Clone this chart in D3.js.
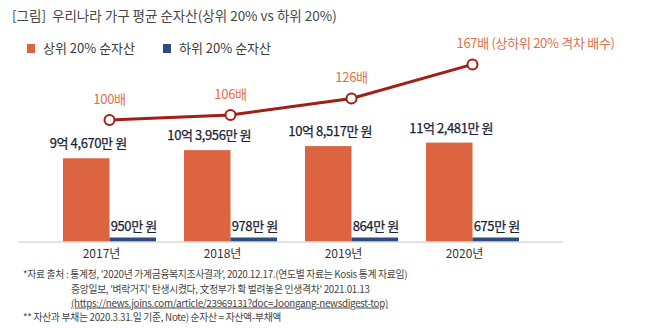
<!DOCTYPE html>
<html>
<head>
<meta charset="utf-8">
<script src="https://cdn.jsdelivr.net/npm/d3@7"></script>
<style>
  html, body { margin: 0; padding: 0; background: #fff; }
  svg { display: block; font-family: "Noto Sans CJK KR", "Noto Sans", sans-serif; }
</style>
</head>
<body>
<svg width="650" height="328"></svg>
<script>
// 가구 평균 순자산 (단위: 만 원)
var years = ["2017년", "2018년", "2019년", "2020년"];
var topAssets = [94670, 103956, 108517, 112481];
var bottomAssets = [950, 978, 864, 675];
// 상위 20% / 하위 20% 격차 배수
var multiples = [100, 106, 126, 167];
var seriesNames = ["상위 20% 순자산", "하위 20% 순자산"];
var multipleNote = "상하위 20% 격차 배수";

var notes = [
  { x: 23, y: 278, text: "*자료 출처 : 통계청, '2020년 가계금융복지조사결과', 2020.12.17.(연도별 자료는 Kosis 통계 자료임)" },
  { x: 71, y: 292.5, text: "중앙일보, '벼락거지' 탄생시켰다, 文정부가 확 벌려놓은 인생격차' 2021.01.13" },
  { x: 71, y: 306.5, text: "(https://news.joins.com/article/23969131?doc=Joongang-newsdigest-top)", underline: true },
  { x: 23, y: 321, text: "** 자산과 부채는 2020.3.31.일 기준, Note) 순자산 = 자산액-부채액" }
];

var orange = "#dc6441", navy = "#2f4b80", lineColor = "#9e2016", lineLabel = "#e0704c", ink = "#1a2236";

var svg = d3.select("svg");

// 제목
svg.append("text")
  .attr("x", 12).attr("y", 21)
  .style("font-size", "13.5px").style("fill", "#474747")
  .style("white-space", "pre")
  .text("[그림]  우리나라 가구 평균 순자산(상위 20% vs 하위 20%)");

// 범례
var legend = svg.selectAll("g.legend")
  .data(seriesNames)
  .enter().append("g")
  .attr("class", "legend")
  .attr("transform", function(d, i) { return "translate(" + (27 + i * 136) + ",44)"; });
legend.append("rect")
  .attr("width", 8).attr("height", 9)
  .style("fill", function(d, i) { return i ? navy : orange; });
legend.append("text")
  .attr("x", 16).attr("y", 8.5)
  .style("font-size", "13px").style("fill", "#3a3a3a")
  .text(function(d) { return d; });

// 스케일
var x = d3.scaleBand()
  .domain(years)
  .range([49, 533])
  .paddingInner(0.2314)
  .paddingOuter(0.1157);
var xSeries = d3.scaleBand().domain([0, 1]).range([0, x.bandwidth()]);
var y = d3.scaleLinear().domain([0, 120000]).range([241.5, 136]);
var yMul = d3.scaleLinear().domain([0, 200]).range([203, 37]);

var won = d3.format(",");
function bigLabel(v) { return Math.floor(v / 10000) + "억 " + won(v % 10000) + "만 원"; }

// 상위 20% 막대
svg.selectAll("rect.top")
  .data(topAssets)
  .enter().append("rect")
  .attr("class", "top")
  .attr("x", function(d, i) { return x(years[i]) + xSeries(0); })
  .attr("width", xSeries.bandwidth())
  .attr("y", function(d) { return y(d); })
  .attr("height", function(d) { return y(0) - y(d); })
  .style("fill", orange);

// 하위 20% 막대 (너무 얇아 최소 두께 적용)
svg.selectAll("rect.bottom")
  .data(bottomAssets)
  .enter().append("rect")
  .attr("class", "bottom")
  .attr("x", function(d, i) { return x(years[i]) + xSeries(1); })
  .attr("width", xSeries.bandwidth())
  .attr("y", function(d) { return y(0) - Math.max(y(0) - y(d), 4); })
  .attr("height", function(d) { return Math.max(y(0) - y(d), 4); })
  .style("fill", navy);

// 기준선
svg.append("line")
  .attr("x1", 18).attr("x2", 563)
  .attr("y1", y(0) + 0.5).attr("y2", y(0) + 0.5)
  .style("stroke", "#c8c8c8").style("stroke-width", 1);

// 값 라벨
svg.selectAll("text.top-label")
  .data(topAssets)
  .enter().append("text")
  .attr("class", "top-label")
  .attr("x", function(d, i) { return x(years[i]) + xSeries(0) + xSeries.bandwidth() / 2 + 2; })
  .attr("y", function(d) { return y(d) - 10; })
  .style("font-size", "13px").style("fill", ink)
  .style("stroke", ink).style("stroke-width", 0.25)
  .style("letter-spacing", "-0.4px")
  .style("text-anchor", "middle")
  .text(bigLabel);

svg.selectAll("text.bottom-label")
  .data(bottomAssets)
  .enter().append("text")
  .attr("class", "bottom-label")
  .attr("x", function(d, i) { return x(years[i]) + xSeries(1) + xSeries.bandwidth() / 2 + 1; })
  .attr("y", 231)
  .style("font-size", "13px").style("fill", ink)
  .style("stroke", ink).style("stroke-width", 0.25)
  .style("letter-spacing", "-0.4px")
  .style("text-anchor", "middle")
  .text(function(d) { return d + "만 원"; });

// 연도
svg.selectAll("text.year")
  .data(years)
  .enter().append("text")
  .attr("class", "year")
  .attr("x", function(d) { return x(d) + x.bandwidth() / 2 - 8; })
  .attr("y", 258)
  .style("font-size", "12px").style("fill", "#333")
  .style("text-anchor", "middle")
  .text(function(d) { return d; });

// 격차 배수 선
var cx = function(d, i) { return x(years[i]) + x.bandwidth() / 2; };
svg.append("path")
  .datum(multiples)
  .attr("d", d3.line().x(cx).y(function(d) { return yMul(d); }))
  .style("fill", "none").style("stroke", lineColor).style("stroke-width", 3);

svg.selectAll("circle")
  .data(multiples)
  .enter().append("circle")
  .attr("cx", cx)
  .attr("cy", function(d) { return yMul(d); })
  .attr("r", 5)
  .style("fill", "#fff").style("stroke", lineColor).style("stroke-width", 2);

svg.selectAll("text.mul")
  .data(multiples)
  .enter().append("text")
  .attr("class", "mul")
  .attr("x", function(d, i) { return i === multiples.length - 1 ? cx(d, i) - 16 : cx(d, i); })
  .attr("y", function(d) { return yMul(d) - 16; })
  .style("font-size", "13px").style("fill", lineLabel)
  .style("letter-spacing", "-0.3px")
  .style("text-anchor", function(d, i) { return i === multiples.length - 1 ? "start" : "middle"; })
  .text(function(d, i) { return d + "배" + (i === multiples.length - 1 ? " (" + multipleNote + ")" : ""); });

// 출처
svg.selectAll("text.note")
  .data(notes)
  .enter().append("text")
  .attr("class", "note")
  .attr("x", function(d) { return d.x; })
  .attr("y", function(d) { return d.y; })
  .style("font-size", "9.8px").style("fill", "#444")
  .style("letter-spacing", "-0.3px")
  .style("text-decoration", function(d) { return d.underline ? "underline" : null; })
  .text(function(d) { return d.text; });
</script>
</body>
</html>
